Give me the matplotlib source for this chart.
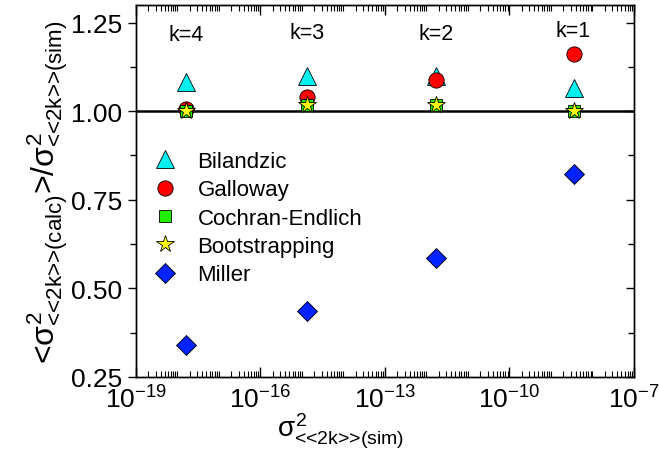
import numpy as np
import matplotlib
matplotlib.use("Agg")
import matplotlib.pyplot as plt
from matplotlib.ticker import LogLocator, FixedLocator, FixedFormatter, NullFormatter

plt.rcParams["font.family"] = ["Liberation Sans", "DejaVu Sans"]
plt.rcParams["mathtext.fontset"] = "custom"
plt.rcParams["mathtext.rm"] = "Liberation Sans"
plt.rcParams["mathtext.it"] = "Liberation Sans"
plt.rcParams["mathtext.bf"] = "Liberation Sans:bold"

# simulated variance of <<2k>> for k = 4, 3, 2, 1
k_labels = ["k=4", "k=3", "k=2", "k=1"]
sim_var = [1.6e-18, 1.35e-15, 1.7e-12, 3.5e-9]

# ratio of calculated to simulated variance per method
bilandzic = [1.083, 1.100, 1.100, 1.066]
galloway = [1.007, 1.040, 1.087, 1.160]
cochran = [1.000, 1.016, 1.018, 1.000]
bootstrap = [1.000, 1.016, 1.018, 1.000]
miller = [0.339, 0.437, 0.586, 0.823]

k_label_y = [1.217, 1.222, 1.219, 1.228]

fig = plt.figure(figsize=(6.59, 4.52), dpi=100)
ax = fig.add_axes([0.206, 0.164, 0.756, 0.823])

ax.axhline(1.0, color="black", lw=1.8, zorder=1)

ax.plot(sim_var, bilandzic, ls="none", marker="^", ms=12.5, mfc="#00f0f0",
        mec="black", mew=0.6, label="Bilandzic", zorder=3)
ax.plot(sim_var, galloway, ls="none", marker="o", ms=11, mfc="#ff0000",
        mec="black", mew=0.6, label="Galloway", zorder=4)
ax.plot(sim_var, cochran, ls="none", marker="s", ms=9, mfc="#22ee00",
        mec="black", mew=0.6, label="Cochran-Endlich", zorder=5)
ax.plot(sim_var, bootstrap, ls="none", marker="*", ms=13, mfc="#ffff00",
        mec="black", mew=0.6, label="Bootstrapping", zorder=6)
ax.plot(sim_var, miller, ls="none", marker="D", ms=10, mfc="#0022ff",
        mec="black", mew=0.6, label="Miller", zorder=7)

for x, y, s in zip(sim_var, k_label_y, k_labels):
    ax.text(x, y, s, ha="center", va="center", fontsize=15.5)

ax.set_xscale("log")
ax.set_xlim(1e-19, 1e-7)
ax.set_ylim(0.25, 1.3)

ax.xaxis.set_major_locator(FixedLocator([1e-19, 1e-16, 1e-13, 1e-10, 1e-7]))
ax.xaxis.set_major_formatter(FixedFormatter(
    [r"$\mathregular{10^{-19}}$", r"$\mathregular{10^{-16}}$",
     r"$\mathregular{10^{-13}}$", r"$\mathregular{10^{-10}}$",
     r"$\mathregular{10^{-7}}$"]))
ax.xaxis.set_minor_locator(LogLocator(base=10, subs=np.arange(1, 10), numticks=40))
ax.xaxis.set_minor_formatter(NullFormatter())

ax.set_yticks([0.25, 0.50, 0.75, 1.00, 1.25])
ax.set_yticklabels(["0.25", "0.50", "0.75", "1.00", "1.25"])
ax.set_yticks(np.arange(0.375, 1.3, 0.25), minor=True)

ax.tick_params(axis="y", which="both", direction="out", right=False, labelsize=19)
ax.tick_params(axis="y", which="major", length=6, width=1)
ax.tick_params(axis="y", which="minor", length=4, width=1)
ax.tick_params(axis="x", which="both", direction="in", top=True, labelsize=19, pad=6)
ax.tick_params(axis="x", which="major", length=7, width=1)
ax.tick_params(axis="x", which="minor", length=4, width=0.8)

# mirrored ticks on the right side, pointing inward
ax_r = ax.twinx()
ax_r.set_ylim(ax.get_ylim())
ax_r.set_yticks([0.25, 0.50, 0.75, 1.00, 1.25])
ax_r.set_yticks(np.arange(0.375, 1.3, 0.25), minor=True)
ax_r.tick_params(axis="y", which="both", direction="in", labelright=False)
ax_r.tick_params(axis="y", which="major", length=6, width=1)
ax_r.tick_params(axis="y", which="minor", length=4, width=1)

for a in (ax, ax_r):
    for sp in a.spines.values():
        sp.set_linewidth(1.0)

ax.set_ylabel(r"<$σ^2_{\text{<<2k>>(calc)}}$>/$σ^2_{\text{<<2k>>(sim)}}$",
              fontsize=23, labelpad=1)
ax.set_xlabel(r"$σ^2_{\text{<<2k>>(sim)}}$", fontsize=20)
ax.xaxis.set_label_coords(0.41, -0.092)

ax.legend(loc="upper left", bbox_to_anchor=(-0.01, 0.655), frameon=False,
          fontsize=16, handletextpad=0.7, labelspacing=0.33,
          borderaxespad=0.4, handlelength=1.5)

fig.savefig("out.png", dpi=100)
